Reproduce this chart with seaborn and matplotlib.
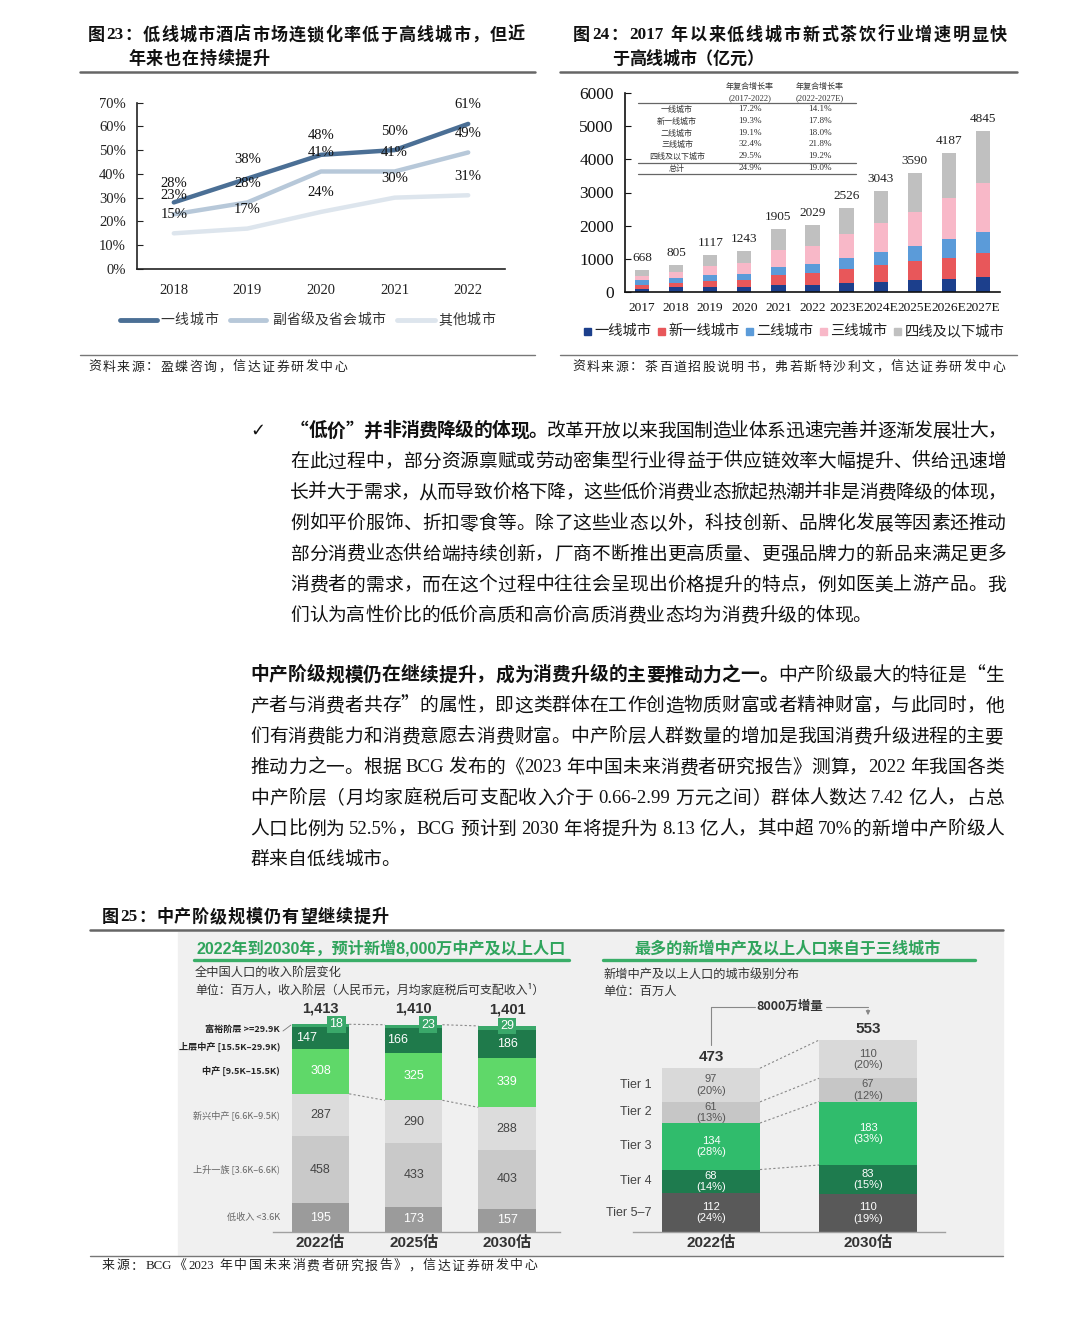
import matplotlib
matplotlib.use('Agg')
import matplotlib.pyplot as plt
import seaborn as sns
import numpy as np
from matplotlib.patches import Rectangle, FancyArrowPatch
from matplotlib.lines import Line2D

sns.set_style('white')
CJK = 'Noto Sans CJK SC'
SERIF = ['Liberation Serif', 'Noto Sans CJK SC']
SANS = ['Liberation Sans', 'Noto Sans CJK SC']
plt.rcParams['font.family'] = [CJK, 'DejaVu Sans']
plt.rcParams['axes.unicode_minus'] = False

# ---------------- data ----------------
# Figure 23
f23_years = ['2018', '2019', '2020', '2021', '2022']
f23_tier1 = [28, 38, 48, 50, 61]
f23_sub = [23, 28, 41, 41, 49]
f23_other = [15, 17, 24, 30, 31]
f23_names = ['一线城市', '副省级及省会城市', '其他城市']

# Figure 24
f24_years = ['2017', '2018', '2019', '2020', '2021', '2022', '2023E', '2024E', '2025E', '2026E', '2027E']
f24_totals = [668, 805, 1117, 1243, 1905, 2029, 2526, 3043, 3590, 4187, 4845]
f24_t1 = [100, 141, 150, 150, 200, 221, 281, 301, 352, 382, 442]
f24_new1 = [125, 140, 180, 200, 303, 352, 422, 503, 583, 653, 744]
f24_t2 = [125, 151, 170, 203, 251, 261, 332, 392, 452, 553, 613]
f24_t3 = [140, 171, 274, 321, 502, 543, 704, 884, 1025, 1246, 1477]
f24_t4 = [178, 202, 343, 369, 649, 652, 787, 963, 1178, 1353, 1569]
f24_names = ['一线城市', '新一线城市', '二线城市', '三线城市', '四线及以下城市']
tbl_head1 = ['年复合增长率', '(2017-2022)']
tbl_head2 = ['年复合增长率', '(2022-2027E)']
tbl_rows = ['一线城市', '新一线城市', '二线城市', '三线城市', '四线及以下城市', '总计']
tbl_c1 = ['17.2%', '19.3%', '19.1%', '32.4%', '29.5%', '24.9%']
tbl_c2 = ['14.1%', '17.8%', '18.0%', '21.8%', '19.2%', '19.0%']

# Figure 25 left
bcg_years = ['2022估', '2025估', '2030估']
bcg_total_lbl = ['1,413', '1,410', '1,401']
bcg_low = [195, 173, 157]
bcg_rise = [458, 433, 403]
bcg_emerg = [287, 290, 288]
bcg_mid = [308, 325, 339]
bcg_upper = [147, 166, 186]
bcg_rich = [18, 23, 29]
bcg_names = ['低收入 <3.6K', '上升一族 [3.6K–6.6K)', '新兴中产 [6.6K–9.5K)',
             '中产 [9.5K–15.5K)', '上层中产 [15.5K–29.9K)', '富裕阶层 >=29.9K']

# Figure 25 right
tier_years = ['2022估', '2030估']
tier_totals = [473, 553]
tier57 = [112, 110]
tier4 = [68, 83]
tier3 = [134, 183]
tier2 = [61, 67]
tier1 = [97, 110]
tier57_pct = ['24%', '19%']
tier4_pct = ['14%', '15%']
tier3_pct = ['28%', '33%']
tier2_pct = ['13%', '12%']
tier1_pct = ['20%', '20%']
tier_names = ['Tier 5–7', 'Tier 4', 'Tier 3', 'Tier 2', 'Tier 1']

# body text
P1 = [
    [("“低价”并非消费降级的体现。", True), ("改革开放以来我国制造业体系迅速完善并逐渐发展壮大，", False)],
    [("在此过程中，部分资源禀赋或劳动密集型行业得益于供应链效率大幅提升、供给迅速增", False)],
    [("长并大于需求，从而导致价格下降，这些低价消费业态掀起热潮并非是消费降级的体现，", False)],
    [("例如平价服饰、折扣零食等。除了这些业态以外，科技创新、品牌化发展等因素还推动", False)],
    [("部分消费业态供给端持续创新，厂商不断推出更高质量、更强品牌力的新品来满足更多", False)],
    [("消费者的需求，而在这个过程中往往会呈现出价格提升的特点，例如医美上游产品。我", False)],
    [("们认为高性价比的低价高质和高价高质消费业态均为消费升级的体现。", False)],
]
P2 = [
    [("中产阶级规模仍在继续提升，成为消费升级的主要推动力之一。", True), ("中产阶级最大的特征是“生", False)],
    [("产者与消费者共存”的属性，即这类群体在工作创造物质财富或者精神财富，与此同时，他", False)],
    [("们有消费能力和消费意愿去消费财富。中产阶层人群数量的增加是我国消费升级进程的主要", False)],
    [("推动力之一。根据 BCG 发布的《2023 年中国未来消费者研究报告》测算，2022 年我国各类", False)],
    [("中产阶层（月均家庭税后可支配收入介于 0.66-2.99 万元之间）群体人数达 7.42 亿人，占总", False)],
    [("人口比例为 52.5%，BCG 预计到 2030 年将提升为 8.13 亿人，其中超 70%的新增中产阶级人", False)],
    [("群来自低线城市。", False)],
]

# ---------------- helpers ----------------
W, H = 1080, 1320
fig = plt.figure(figsize=(W / 100, H / 100), dpi=100)
fig.patch.set_facecolor('white')


def fx(x):
    return x / W


def fy(y):
    return 1 - y / H


def ftext(x, y, s, **kw):
    kw.setdefault('va', 'center')
    return fig.text(fx(x), fy(y), s, **kw)


def hline(x0, x1, y, lw=1.0, color='#555555', **kw):
    fig.add_artist(Line2D([fx(x0), fx(x1)], [fy(y), fy(y)], lw=lw, color=color, **kw))


def pline(xs, ys, **kw):
    fig.add_artist(Line2D([fx(v) for v in xs], [fy(v) for v in ys], **kw))


def add_ax(x0, y0, x1, y1):
    return fig.add_axes([fx(x0), fy(y1), (x1 - x0) / W, (y1 - y0) / H])


renderer = fig.canvas.get_renderer()


def draw_line(segments, x0, x1, y, size=13.5, justify=True, color='#111111'):
    tokens = []
    for text, bold in segments:
        i = 0
        while i < len(text):
            ch = text[i]
            if ch == ' ':
                tokens.append((' ', bold, 'space'))
                i += 1
            elif ord(ch) < 128:
                j = i
                while j < len(text) and ord(text[j]) < 128 and text[j] != ' ':
                    j += 1
                tokens.append((text[i:j], bold, 'latin'))
                i = j
            else:
                tokens.append((ch, bold, 'cjk'))
                i += 1
    arts, widths = [], []
    for s, bold, kind in tokens:
        if kind == 'space':
            arts.append(None)
            widths.append(size * 100 / 72 * 0.22)
            continue
        fam = SERIF if kind == 'latin' else [CJK]
        t = fig.text(0, fy(y), s, fontsize=size, fontweight='bold' if bold else 'normal',
                     family=fam, va='center', ha='left', color=color)
        w = t.get_window_extent(renderer).width
        arts.append(t)
        widths.append(w)
    total = sum(widths)
    n = len(tokens)
    gap = (x1 - x0 - total) / (n - 1) if (justify and n > 1) else 0
    x = x0
    for a, w in zip(arts, widths):
        if a is not None:
            a.set_x(fx(x))
        x += w + gap


def nobar_edges(ax):
    for p in ax.patches:
        p.set_linewidth(0)
        p.set_edgecolor('none')


# ================= Figure 23 =================
draw_line([('图23：低线城市酒店市场连锁化率低于高线城市，但近', True)], 88, 525, 35, size=12.3)
draw_line([('年来也在持续提升', True)], 128, 270, 59, size=12.3)
hline(80, 535, 72, lw=1.8, color='#666666')
hline(80, 535, 355, lw=1.0, color='#777777')
draw_line([('资料来源：盈蝶咨询，信达证券研发中心', False)], 88, 347, 367, size=9.3, color='#222222')

ax23 = add_ax(137, 102.5, 505, 269)
c23 = ['#4b6f95', '#b7c8d9', '#dde5ed']
xs = np.arange(len(f23_years))
for vals, c in zip([f23_other, f23_sub, f23_tier1], [c23[2], c23[1], c23[0]]):
    sns.lineplot(x=xs, y=vals, ax=ax23, color=c, linewidth=3.2, legend=False)
for vals in [f23_tier1, f23_sub, f23_other]:
    for i, v in enumerate(vals):
        ax23.annotate(f'{v}%', (i, v), xytext=(0, 19), textcoords='offset pixels',
                      ha='center', va='center', fontsize=10.5, family=SERIF, color='#111111')
ax23.set_xlim(-0.5, 4.5)
ax23.set_ylim(0, 70)
ax23.set_yticks(range(0, 71, 10))
ax23.set_yticklabels([f'{v}%' for v in range(0, 71, 10)], family=SERIF, fontsize=10.5, color='#222222')
ax23.set_xticks(xs)
ax23.set_xticklabels(f23_years, family=SERIF, fontsize=10.5, color='#222222')
ax23.set_xticks(xs + 0.5, minor=True)
ax23.tick_params(axis='x', which='major', length=0, pad=11)
ax23.tick_params(axis='x', which='minor', direction='in', length=4, color='#222222')
ax23.tick_params(axis='y', direction='in', length=4, pad=8, color='#222222', left=True)
for s in ['top', 'right']:
    ax23.spines[s].set_visible(False)
for s in ['left', 'bottom']:
    ax23.spines[s].set_color('#222222')
    ax23.spines[s].set_linewidth(1.2)
ax23.patch.set_alpha(0)
ax23.set_xlabel('')
ax23.set_ylabel('')

# legend
leg23 = [(120, 157, 160, 218), (230, 266, 272, 385), (397, 435, 438, 495)]
for (a, b, t0, t1), name, c in zip(leg23, f23_names, c23):
    pline([a, b], [320, 320], lw=3.5, color=c, solid_capstyle='round')
    draw_line([(name, False)], t0, t1, 320, size=10, color='#333333')

# ================= Figure 24 =================
draw_line([('图24：2017 年以来低线城市新式茶饮行业增速明显快', True)], 573, 1007, 35, size=12.3)
draw_line([('于高线城市（亿元）', True)], 612, 763, 59, size=12.3)
hline(560, 1017, 72, lw=1.8, color='#666666')
hline(560, 1017, 355, lw=1.0, color='#777777')
draw_line([('资料来源：茶百道招股说明书，弗若斯特沙利文，信达证券研发中心', False)], 572, 1005, 367,
          size=9.3, color='#222222')

ax24 = add_ax(625, 93, 1000, 292)
c24 = ['#1c3f8c', '#e8575a', '#5b9bd9', '#f8b8c8', '#c0c0c0']
layers = [f24_t1, f24_new1, f24_t2, f24_t3, f24_t4]
cums = np.cumsum(np.array(layers), axis=0)
for k in range(len(layers) - 1, -1, -1):
    sns.barplot(x=f24_years, y=cums[k], order=f24_years, color=c24[k], width=0.42,
                saturation=1, errorbar=None, ax=ax24)
nobar_edges(ax24)
for i, tot in enumerate(f24_totals):
    ax24.annotate(str(tot), (i, tot), xytext=(0, 12), textcoords='offset pixels',
                  ha='center', va='center', fontsize=9.5, family=SERIF, color='#222222')
ax24.set_xlim(-0.5, 10.5)
ax24.set_ylim(0, 6000)
ax24.set_yticks(range(0, 6001, 1000))
ax24.set_yticklabels([str(v) for v in range(0, 6001, 1000)], family=SERIF, fontsize=12.5, color='#111111')
ax24.set_xticks(range(len(f24_years)))
ax24.set_xticklabels(f24_years, family=SERIF, fontsize=9.6, color='#111111')
ax24.tick_params(axis='x', length=0, pad=7)
ax24.tick_params(axis='y', direction='in', length=4, pad=8, left=True, color='#111111')
for s in ['top', 'right']:
    ax24.spines[s].set_visible(False)
for s in ['left', 'bottom']:
    ax24.spines[s].set_color('#111111')
    ax24.spines[s].set_linewidth(1.2)
ax24.set_xlabel('')
ax24.set_ylabel('')
ax24.patch.set_alpha(0)

# inset table
tcol = '#333333'
ftext(750, 86, tbl_head1[0], fontsize=5.8, ha='center', color=tcol)
ftext(750, 98, tbl_head1[1], fontsize=6.2, ha='center', color=tcol, family=SERIF)
ftext(820, 86, tbl_head2[0], fontsize=5.8, ha='center', color=tcol)
ftext(820, 98, tbl_head2[1], fontsize=6.2, ha='center', color=tcol, family=SERIF)
hline(638, 856, 103, lw=0.9, color='#666666')
row_y = [109, 121, 133, 144, 156, 168.5]
for r, c1, c2, yy in zip(tbl_rows, tbl_c1, tbl_c2, row_y):
    ftext(677, yy, r, fontsize=5.8, ha='center', color=tcol)
    ftext(750, yy, c1, fontsize=6.6, ha='center', color=tcol, family=SERIF)
    ftext(820, yy, c2, fontsize=6.6, ha='center', color=tcol, family=SERIF)
hline(638, 856, 162.5, lw=0.9, color='#666666')
hline(638, 856, 174, lw=0.9, color='#666666')

# legend
xpos = 587
for name, c in zip(f24_names, c24):
    fig.add_artist(Rectangle((fx(xpos - 3.5), fy(331 + 3.5)), 7 / W, 7 / H, color=c, transform=fig.transFigure))
    t = ftext(xpos + 7, 331, name, fontsize=10.3, color='#222222')
    w = t.get_window_extent(renderer).width
    xpos = xpos + 7 + w + 10

# ================= Body text =================
ftext(250, 431, '✓', fontsize=13, family='DejaVu Sans', color='#111111')
for k, segs in enumerate(P1):
    draw_line(segs, 290, 1006, 431 + 30.8 * k, justify=(k < len(P1) - 1))
for k, segs in enumerate(P2):
    draw_line(segs, 250, 1004, 675 + 30.8 * k, justify=(k < len(P2) - 1))

# ================= Figure 25 =================
draw_line([('图25：中产阶级规模仍有望继续提升', True)], 102, 389, 917, size=12.3)
fig.add_artist(Rectangle((fx(178), fy(1255)), (1003 - 178) / W, (1255 - 932) / H,
                         color='#f0f0f0', transform=fig.transFigure, zorder=0))
hline(90, 1003, 930, lw=1.8, color='#666666')
hline(90, 1003, 1256, lw=1.0, color='#777777')
draw_line([('来源：BCG《2023 年中国未来消费者研究报告》，信达证券研发中心', False)], 102, 537, 1266,
          size=9.3, color='#222222')

green = '#2fa45c'
ftext(381, 948, '2022年到2030年，预计新增8,000万中产及以上人口', fontsize=11.6, fontweight='bold',
      ha='center', color=green, family=SANS)
hline(194, 569, 960, lw=2.4, color='#3aae68')
ftext(195, 973, '全中国人口的收入阶层变化', fontsize=8.8, color='#333333')
ftext(195, 990, '单位：百万人，收入阶层（人民币元，月均家庭税后可支配收入¹）', fontsize=8.6, color='#333333')

ftext(788, 948, '最多的新增中产及以上人口来自于三线城市', fontsize=11.6, fontweight='bold',
      ha='center', color=green)
hline(603, 975, 960, lw=2.4, color='#3aae68')
ftext(603, 974, '新增中产及以上人口的城市级别分布', fontsize=8.8, color='#333333')
ftext(603, 991, '单位：百万人', fontsize=8.8, color='#333333')

# ---- left BCG chart ----
axL = add_ax(273, 990, 560, 1232)
scaleL = 0.147
cL = ['#9b9b9b', '#c9c9c9', '#dcdcdc', '#5fd869', '#1f7a4b', '#3aa86a']
layersL = [bcg_low, bcg_rise, bcg_emerg, bcg_mid, bcg_upper, bcg_rich]
cumL = np.cumsum(np.array(layersL), axis=0)
wL = 0.615
for k in range(len(layersL) - 1, -1, -1):
    sns.barplot(x=bcg_years, y=cumL[k], order=bcg_years, color=cL[k], width=wL,
                saturation=1, errorbar=None, ax=axL)
nobar_edges(axL)
axL.set_xlim((273 - 320.5) / 93.25, (560 - 320.5) / 93.25)
axL.set_ylim(0, (1232 - 990) / scaleL)
txtL = ['white', '#444444', '#444444', 'white', 'white']
upper_dx = [-14, -16, 0]
box_dx = [16, 14, 0]
for i in range(3):
    for k in range(5):
        mid = cumL[k][i] - layersL[k][i] / 2
        dx = upper_dx[i] if k == 4 else 0
        axL.annotate(str(layersL[k][i]), (i, mid), xytext=(dx, 0), textcoords='offset pixels',
                     ha='center', va='center', fontsize=9, color=txtL[k], family=SANS)
    axL.annotate(str(bcg_rich[i]), (i, cumL[5][i]), xytext=(box_dx[i], 0), textcoords='offset pixels',
                 ha='center', va='center', fontsize=9, color='white', family=SANS,
                 bbox=dict(boxstyle='square,pad=0.18', fc='#3aa86a', ec='none'))
    axL.annotate(bcg_total_lbl[i], (i, cumL[5][i]), xytext=(0, 16), textcoords='offset pixels',
                 ha='center', va='center', fontsize=10.5, fontweight='bold', color='#333333', family=SANS)
for i in range(2):
    for k in [5, 2]:
        axL.plot([i + wL / 2, i + 1 - wL / 2], [cumL[k][i], cumL[k][i + 1]],
                 ls=(0, (2, 2)), lw=0.8, color='#8a8a8a')
lab_dy = [0, 0, 0, 0, -9, -4]
lab_bold = [False, False, False, True, True, True]
for k, name in enumerate(bcg_names):
    mid = cumL[k][0] - layersL[k][0] / 2
    axL.annotate(name, (fx(280), mid), xycoords=('figure fraction', 'data'), xytext=(0, lab_dy[k]),
                 textcoords='offset pixels', ha='right', va='center', fontsize=6.6,
                 fontweight='bold' if lab_bold[k] else 'normal',
                 color='#222222' if lab_bold[k] else '#666666', annotation_clip=False)
pline([283, 291], [1031, 1025], lw=0.6, color='#777777')
axL.set_xticks(range(3))
axL.set_xticklabels(bcg_years, fontsize=11, fontweight='bold', color='#333333', family=SANS)
axL.tick_params(axis='x', length=0, pad=3)
axL.set_yticks([])
for s in ['top', 'right', 'left']:
    axL.spines[s].set_visible(False)
axL.spines['bottom'].set_color('#a0a0a0')
axL.spines['bottom'].set_linewidth(1.0)
axL.patch.set_alpha(0)
axL.set_xlabel('')
axL.set_ylabel('')

# ---- right BCG chart ----
axR = add_ax(633, 990, 945, 1232)
scaleR = 0.347
cR = ['#595959', '#1e7b4e', '#30bc6c', '#c6c6c6', '#d9d9d9']
layersR = [tier57, tier4, tier3, tier2, tier1]
pctR = [tier57_pct, tier4_pct, tier3_pct, tier2_pct, tier1_pct]
cumR = np.cumsum(np.array(layersR), axis=0)
wR = 0.624
for k in range(len(layersR) - 1, -1, -1):
    sns.barplot(x=tier_years, y=cumR[k], order=tier_years, color=cR[k], width=wR,
                saturation=1, errorbar=None, ax=axR)
nobar_edges(axR)
axR.set_xlim((633 - 711) / 157, (945 - 711) / 157)
axR.set_ylim(0, (1232 - 990) / scaleR)
txtR = ['white', 'white', 'white', '#555555', '#555555']
for i in range(2):
    for k in range(5):
        mid = cumR[k][i] - layersR[k][i] / 2
        axR.annotate(f'{layersR[k][i]}\n({pctR[k][i]})', (i, mid), ha='center', va='center',
                     fontsize=8, color=txtR[k], family=SANS, linespacing=1.15)
    axR.annotate(str(tier_totals[i]), (i, cumR[4][i]), xytext=(0, 11), textcoords='offset pixels',
                 ha='center', va='center', fontsize=11, fontweight='bold', color='#333333', family=SANS)
for k in [1, 2, 3, 4]:
    axR.plot([wR / 2, 1 - wR / 2], [cumR[k][0], cumR[k][1]], ls=(0, (2, 2)), lw=0.8, color='#8a8a8a')
for k, name in enumerate(tier_names):
    mid = cumR[k][0] - layersR[k][0] / 2
    axR.annotate(name, (fx(652), mid), xycoords=('figure fraction', 'data'), ha='right', va='center',
                 fontsize=9, color='#444444', family=SANS, annotation_clip=False)
axR.set_xticks(range(2))
axR.set_xticklabels(tier_years, fontsize=11, fontweight='bold', color='#333333', family=SANS)
axR.tick_params(axis='x', length=0, pad=3)
axR.set_yticks([])
for s in ['top', 'right', 'left']:
    axR.spines[s].set_visible(False)
axR.spines['bottom'].set_color('#a0a0a0')
axR.spines['bottom'].set_linewidth(1.0)
axR.patch.set_alpha(0)
axR.set_xlabel('')
axR.set_ylabel('')

# bracket "8000万增量"
pline([711, 711, 755], [1045, 1007, 1007], lw=0.8, color='#888888')
pline([826, 868], [1007, 1007], lw=0.8, color='#888888')
fig.add_artist(FancyArrowPatch((fx(868), fy(1007)), (fx(868), fy(1018)),
                               transform=fig.transFigure, arrowstyle='-|>',
                               mutation_scale=6, color='#888888', lw=0.8))
ftext(790, 1006, '8000万增量', fontsize=9, fontweight='bold', ha='center', color='#333333')

fig.savefig('out.png', dpi=100, facecolor='white')
